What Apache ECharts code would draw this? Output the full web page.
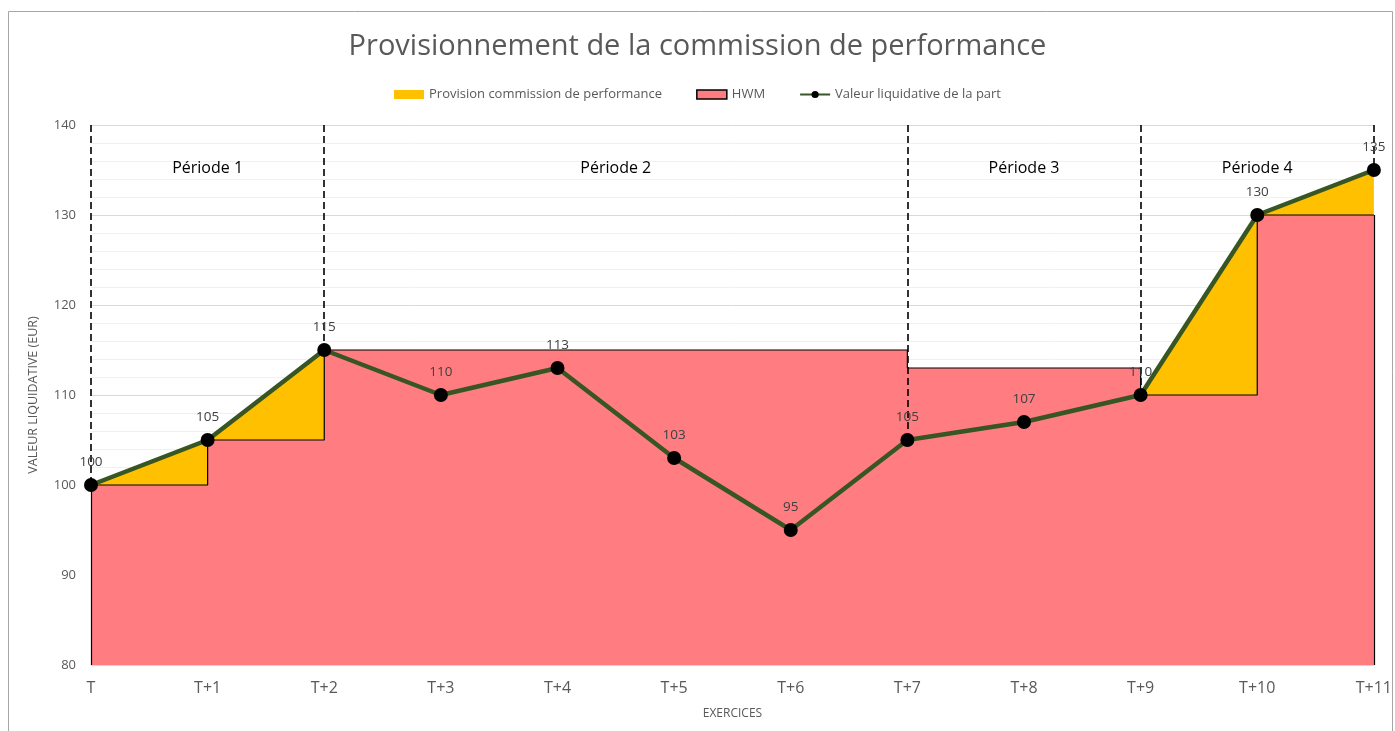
<!DOCTYPE html>
<html>
<head>
<meta charset="utf-8">
<title>Provisionnement de la commission de performance</title>
<script src="https://cdn.jsdelivr.net/npm/echarts@6/dist/echarts.min.js"></script>
<style>
    html,body{margin:0;padding:0;background:#fff;}
    #main{width:1395px;height:731px;}
</style>
</head>
<body>
<div id="main"></div>
<script>
// donnees
var categories = ['T','T+1','T+2','T+3','T+4','T+5','T+6','T+7','T+8','T+9','T+10','T+11'];
var navValues = [100,105,115,110,113,103,95,105,107,110,130,135];
var hwmValues = [100,105,115,115,115,115,115,113,113,110,130,130];
var periodNames = ['Période 1','Période 2','Période 3','Période 4'];
var periodBounds = ['T','T+2','T+7','T+9','T+11'];
var yMin = 80, yMax = 140;

var chart = echarts.init(document.getElementById('main'));
var fontFamily = '"Open Sans", "Liberation Sans", sans-serif';

// lignes pointillees de debut/fin de periode
var periodLines = [];
for(var i=0; i<periodBounds.length; i++){
    var idx = categories.indexOf(periodBounds[i]);
    periodLines.push([{coord:[periodBounds[i], yMax]},{coord:[periodBounds[i], navValues[idx]]}]);
}

// zones des periodes (labels)
var periodAreas = [];
for(var j=0; j<periodNames.length; j++){
    periodAreas.push([{xAxis:periodBounds[j], name:periodNames[j]},{xAxis:periodBounds[j+1]}]);
}

var last = categories.length - 1;

var option = {
    backgroundColor:'#fff',
    animation:false,
    textStyle:{fontFamily:fontFamily},
    title:{
        text:'Provisionnement de la commission de performance',
        left:'center',
        top:27,
        textStyle:{color:'#595959',fontSize:29,fontWeight:'normal',fontFamily:fontFamily}
    },
    legend:{
        top:83,
        left:'center',
        itemWidth:30,
        itemHeight:9,
        itemGap:34,
        textStyle:{color:'#595959',fontSize:13,fontFamily:fontFamily},
        data:[
            {name:'Provision commission de performance',icon:'rect',itemStyle:{color:'#FFC000',borderWidth:0}},
            {name:'HWM',icon:'rect',itemStyle:{color:'#FF7C80',borderColor:'#000',borderWidth:1.5}},
            {name:'Valeur liquidative de la part'}
        ]
    },
    grid:{left:91,right:21,top:125,bottom:66},
    xAxis:{
        type:'category',
        data:categories,
        boundaryGap:false,
        name:'EXERCICES',
        nameLocation:'middle',
        nameGap:43,
        nameTextStyle:{color:'#595959',fontSize:12},
        axisLine:{lineStyle:{color:'#d9d9d9',width:1}},
        axisTick:{show:false},
        axisLabel:{color:'#595959',fontSize:16,margin:15}
    },
    yAxis:{
        type:'value',
        min:yMin,
        max:yMax,
        interval:10,
        name:'VALEUR LIQUIDATIVE (EUR)',
        nameLocation:'middle',
        nameGap:51,
        nameTextStyle:{color:'#595959',fontSize:12.5},
        axisLine:{show:false},
        axisTick:{show:false},
        axisLabel:{color:'#595959',fontSize:13,margin:15},
        splitLine:{lineStyle:{color:'#d9d9d9',width:1}},
        minorTick:{show:false,splitNumber:5},
        minorSplitLine:{show:true,lineStyle:{color:'#f0f0f0',width:1}}
    },
    series:[{
        name:'Provision commission de performance',
        type:'line',
        data:navValues,
        symbol:'none',
        lineStyle:{width:0},
        itemStyle:{color:'#FFC000'},
        areaStyle:{color:'#FFC000',opacity:1},
        silent:true,
        markArea:{
            silent:true,
            itemStyle:{color:'rgba(0,0,0,0)'},
            label:{show:true,position:'insideTop',distance:35,color:'#000',fontSize:16,fontFamily:fontFamily},
            data:periodAreas
        }
    },{
        name:'HWM',
        type:'line',
        step:'end',
        data:hwmValues,
        symbol:'none',
        lineStyle:{color:'#000',width:1.2},
        itemStyle:{color:'#FF7C80'},
        areaStyle:{color:'#FF7C80',opacity:1},
        silent:true,
        markLine:{
            silent:true,
            symbol:'none',
            label:{show:false},
            lineStyle:{color:'#000',width:1.2,type:'solid'},
            data:[
                [{coord:[categories[0], yMin]},{coord:[categories[0], hwmValues[0]]}],
                [{coord:[categories[last], yMin]},{coord:[categories[last], hwmValues[last]]}]
            ]
        }
    },{
        name:'Valeur liquidative de la part',
        type:'line',
        data:navValues,
        symbol:'circle',
        symbolSize:14,
        z:5,
        lineStyle:{color:'#375623',width:4.5},
        itemStyle:{color:'#000'},
        label:{show:true,position:'top',distance:9,color:'#404040',fontSize:13.5,fontFamily:fontFamily},
        markLine:{
            silent:true,
            symbol:'none',
            label:{show:false},
            lineStyle:{color:'#000',width:1.6,type:[7,4]},
            data:periodLines
        }
    }],
    graphic:[{
        type:'rect',
        shape:{x:8.5,y:11.5,width:1384,height:730},
        style:{fill:'none',stroke:'#a6a6a6',lineWidth:1},
        silent:true
    }]
};

chart.setOption(option);
</script>
</body>
</html>
